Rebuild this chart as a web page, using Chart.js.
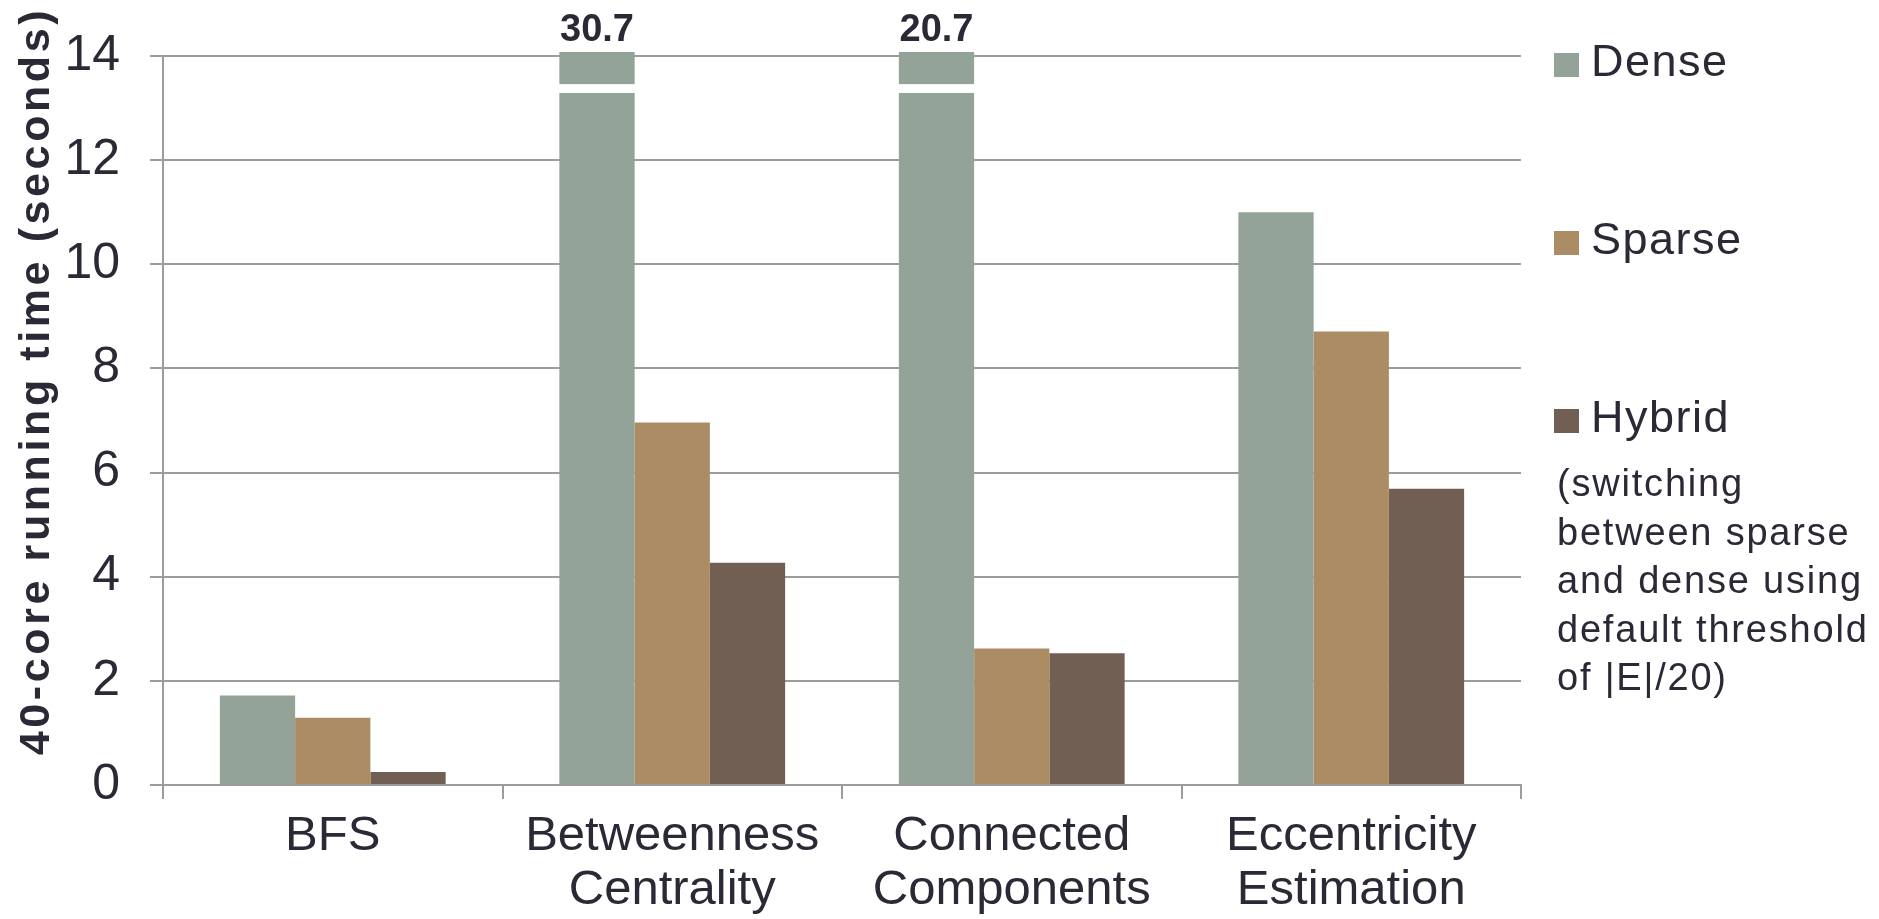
<!DOCTYPE html>
<html>
<head>
<meta charset="utf-8">
<script src="https://cdn.jsdelivr.net/npm/chart.js@4.4.1/dist/chart.umd.min.js"></script>
<style>
  html, body { margin: 0; padding: 0; background: #fff; }
  #wrap { width: 1879px; height: 919px; }
</style>
</head>
<body>
<div id="wrap"><canvas id="chart"></canvas></div>
<script>
const categories = [['BFS'], ['Betweenness', 'Centrality'], ['Connected', 'Components'], ['Eccentricity', 'Estimation']];
const seriesNames = ['Dense', 'Sparse', 'Hybrid'];
const dense = [1.72, 30.7, 20.7, 11.0];
const sparse = [1.29, 6.96, 2.62, 8.71];
const hybrid = [0.25, 4.27, 2.53, 5.69];
const yTicks = [0, 2, 4, 6, 8, 10, 12, 14];
const yTitle = '40-core running time (seconds)';
const noteLines = ['(switching', 'between sparse', 'and dense using', 'default threshold', 'of |E|/20)'];
const breakRange = [13.29, 13.46];

const textColor = '#2a2a36';
const gridColor = '#9c9c9c';
const colors = ['#93a398', '#ab8c64', '#715f53'];
const FONT = '"Liberation Sans", Arial, sans-serif';

// broken bars, value labels, legend, note and axis title
const extras = {
    id: 'extras',
    afterDatasetsDraw(chart) {
        const ctx = chart.ctx, y = chart.scales.y, area = chart.chartArea;
        const meta = chart.getDatasetMeta(0);
        ctx.save();
        meta.data.forEach((bar, i) => {
            const v = dense[i];
            if (v <= y.max) return;
            const y1 = y.getPixelForValue(breakRange[1]);
            const y2 = y.getPixelForValue(breakRange[0]);
            ctx.fillStyle = '#fff';
            ctx.fillRect(bar.x - bar.width / 2 - 1, y1, bar.width + 2, y2 - y1);
            ctx.fillStyle = textColor;
            ctx.font = 'bold 38px ' + FONT;
            ctx.textAlign = 'center';
            ctx.textBaseline = 'alphabetic';
            ctx.fillText(v.toFixed(1), bar.x, area.top - 15);
        });
        ctx.restore();
    },
    afterDraw(chart) {
        const ctx = chart.ctx;
        ctx.save();
        // legend
        ctx.font = '45px ' + FONT;
        ctx.letterSpacing = '1.5px';
        ctx.textAlign = 'left';
        ctx.textBaseline = 'alphabetic';
        chart.data.datasets.forEach((ds, i) => {
            const base = 76 + i * 178;
            ctx.fillStyle = ds.backgroundColor;
            ctx.fillRect(1554, base - 23, 25, 24);
            ctx.fillStyle = textColor;
            ctx.fillText(ds.label, 1591, base);
        });
        // note under Hybrid
        ctx.font = '38px ' + FONT;
        ctx.letterSpacing = '1.8px';
        noteLines.forEach((line, i) => ctx.fillText(line, 1557, 496 + i * 48.5));
        // y axis title
        ctx.font = 'bold 43px ' + FONT;
        ctx.letterSpacing = '3.6px';
        ctx.translate(37, 381);
        ctx.rotate(-Math.PI / 2);
        ctx.textAlign = 'center';
        ctx.textBaseline = 'middle';
        ctx.fillText(yTitle, 0, 0);
        ctx.restore();
    }
};

const barStyle = { borderWidth: 0, clip: { left: 0, top: 4, right: 0, bottom: 0 } };

new Chart(document.getElementById('chart'), {
    type: 'bar',
    data: {
        labels: categories,
        datasets: [
            { label: seriesNames[0], data: dense, backgroundColor: colors[0], ...barStyle },
            { label: seriesNames[1], data: sparse, backgroundColor: colors[1], ...barStyle },
            { label: seriesNames[2], data: hybrid, backgroundColor: colors[2], ...barStyle }
        ]
    },
    options: {
        responsive: true,
        maintainAspectRatio: false,
        animation: false,
        categoryPercentage: 0.665,
        barPercentage: 1,
        layout: { padding: { top: 56, right: 358, bottom: 0, left: 0 } },
        plugins: { legend: { display: false }, tooltip: { enabled: false } },
        scales: {
            x: {
                afterFit: s => { s.height = 134; s.paddingLeft = 0; s.paddingRight = 0; },
                border: { display: true, color: gridColor, width: 2 },
                grid: { offset: true, drawOnChartArea: false, color: gridColor, lineWidth: 2, tickLength: 14 },
                ticks: {
                    color: textColor,
                    padding: 10,
                    maxRotation: 0,
                    font: { family: FONT, size: 49, lineHeight: 1.11 }
                }
            },
            y: {
                min: 0,
                max: 14,
                afterFit: s => { s.width = 163; s.paddingTop = 0; s.paddingBottom = 0; },
                afterBuildTicks: s => { s.ticks = yTicks.map(v => ({ value: v })); },
                border: { display: true, color: gridColor, width: 2 },
                grid: { color: gridColor, lineWidth: 2, tickLength: 13 },
                ticks: {
                    color: textColor,
                    padding: 30,
                    font: { family: FONT, size: 50, lineHeight: 1 }
                }
            }
        }
    },
    plugins: [extras]
});
</script>
</body>
</html>
